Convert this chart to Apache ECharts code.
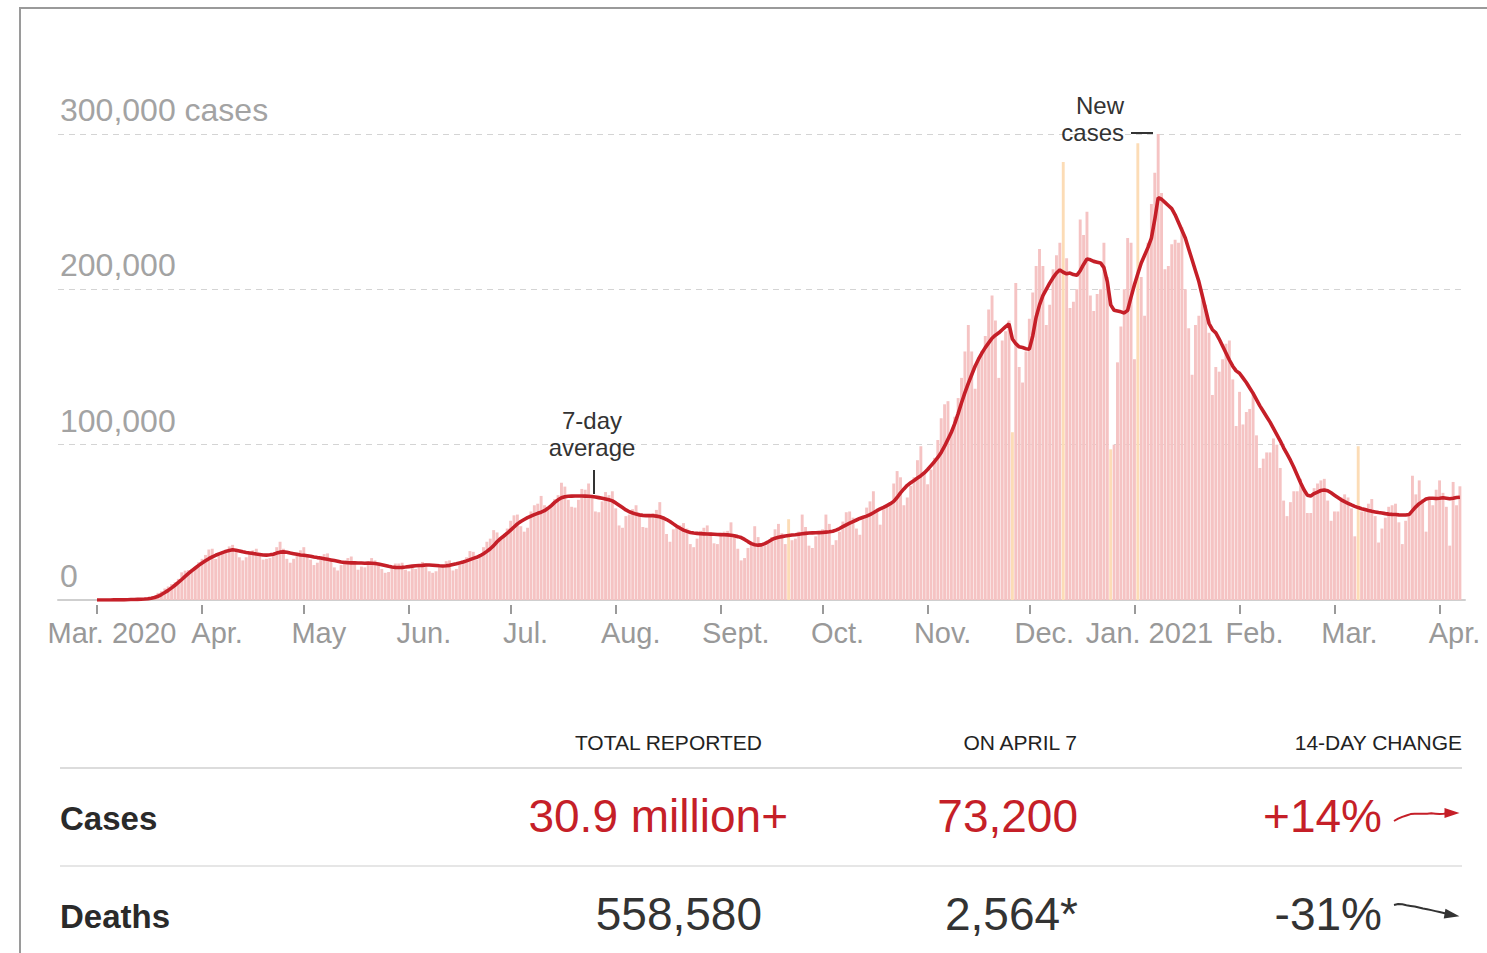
<!DOCTYPE html>
<html>
<head>
<meta charset="utf-8">
<script src="https://cdn.jsdelivr.net/npm/echarts@6/dist/echarts.min.js"></script>
<style>
html,body{margin:0;padding:0;background:#fff;}
#chart{width:1487px;height:953px;}
</style>
</head>
<body>
<div id="chart"></div>
<script>
// ---------------- DATA ----------------
const startDate = '2020-03-01';

// Daily new cases, Mar 1 2020 – Apr 7 2021
const dailyCases = [
  // Mar 2020
  10,20,20,30,60,80,100,120,180,290, 380,430,600,700,830,1300,1800,2800,4600,5600,
  7400,8700,10200,11400,13600,17800,18900,19300,20100,21000, 24300,
  // Apr
  26500,29000,32500,33000,26500,29500,31500,32500,34500,35500, 31000,27500,25500,27500,30500,32000,33000,29500,26000,26500,
  27000,29500,34000,37500,33000,26500,24000,26500,28500,32000,
  // May
  34000,29500,26000,22500,24000,27000,29500,30000,25500,21000, 19000,22500,23000,27000,28000,25000,19500,21500,21000,22500,
  27000,25500,22500,20000,17500,18000,20500,23500,23500,24000, 19500,
  // Jun
  18500,21000,20000,21500,24500,23500,18500,17500,18500,21000, 22500,25000,25500,19000,20000,23500,25500,27500,31500,31000,
  26000,28000,34000,37500,39500,45000,43500,40000,40500,46000,
  // Jul
  51000,54500,55000,47500,44000,46500,57000,61000,62000,67000, 61000,58500,60000,65000,67500,75500,73000,64500,60000,59500,
  64500,71500,71000,75000,66000,57000,56500,63500,69500,67500, 70000,
  // Aug
  59000,48000,46500,54000,55000,58500,61000,55500,47000,46500, 53500,56000,58000,63000,54000,42500,37500,45500,46500,48000,
  49500,46000,36000,34000,39500,44500,46500,48000,43500,36500, 36000,
  // Sep
  41500,44000,44500,50000,41500,33000,25500,27000,33500,37500, 47500,40500,34500,35000,38000,40500,45500,49000,43000,36000,
  52000,38500,39500,44000,55000,47000,35000,33500,41000,43500,
  // Oct
  45500,55000,49000,35500,38500,44000,50500,56500,57000,53000, 46000,42000,52000,59500,63500,70000,57000,48500,58500,60500,
  62500,75000,83000,79000,61000,66000,73500,79000,90000,99000, 81500,
  // Nov
  74500,84000,91500,103000,117000,126000,128000,109000,118000,130000, 143000,160000,177000,160000,136000,156000,160000,170000,187000,196000,
  180000,143000,167000,173000,180000,108000,204000,150000,140000,160000,
  // Dec
  181000,198000,215000,226000,215000,177000,190000,213000,222000,230000, 282000,220000,188000,192000,200000,245000,235000,250000,196000,186000,
  197000,200000,230000,208000,97000,100000,153000,176000,200000,233000, 230000,
  // Jan 2021
  155000,294000,208000,183000,230000,255000,275000,300000,262000,213000, 215000,229000,232000,230000,240000,200000,175000,145000,177000,183000,
  193000,190000,172000,132000,150000,147000,155000,165000,167000,142000, 112000,
  // Feb
  134000,113000,121000,123000,134000,106000,85000,91000,95000,95000, 104000,100000,85000,64000,54000,63000,70000,70000,78000,71000,
  56000,56000,72000,75000,77000,78000,64000,51000,
  // Mar
  57000,57000,66000,68000,66000,59000,41000,99000,57000,58000, 62000,65000,54000,37000,46000,53000,60000,61000,62000,50000,
  36000,51000,54000,80000,68000,77000,65000,44000,66000,61000, 71000,
  // Apr
  77000,69000,60000,35000,76000,61000,73200
];

// 7-day average
const avgCases = [
  // Mar 2020
  0,0,0,0,0,100,100,100,100,200, 300,300,400,500,600,800,1100,1600,2400,3500,
  4800,6200,7800,9500,11300,13200,15200,17100,18900,20600, 22300,
  // Apr
  23800,25200,26600,27800,28800,29700,30500,31300,31900,32300, 32000,31600,31000,30600,30300,30000,29600,29300,29000,28900,
  29100,29500,30200,30800,31000,30700,30200,29800,29400,29000,
  // May
  28800,28500,28200,27700,27300,27000,26600,26200,25800,25400, 25000,24500,24200,24000,23900,23900,23800,23800,23700,23800,
  23700,23500,23200,22700,22200,21700,21300,21000,20900,21000, 21200,
  // Jun
  21500,21800,22000,22200,22300,22500,22500,22400,22200,22000, 21900,22000,22300,22800,23300,23900,24500,25200,26000,26800,
  27500,28500,29800,31300,33000,35000,37500,39500,41200,43000,
  // Jul
  45000,47000,49000,50500,51800,53000,54000,55000,55800,56500, 57500,59000,60800,62800,64500,65800,66500,66800,66900,67000,
  67000,67000,66900,66800,66600,66300,65900,65500,65000,64500, 63800,
  // Aug
  62500,61000,59500,58000,56800,56000,55300,54800,54500,54300, 54300,54200,54000,53600,52800,51800,50500,49000,47500,46200,
  45000,44200,43500,43100,42900,42700,42600,42500,42400,42300, 42200,
  // Sep
  42100,42000,41900,41700,41300,40800,40200,39000,37600,36300, 35600,35300,35500,36300,37500,38800,39800,40400,40800,41200,
  41500,41800,42000,42300,42600,42900,43100,43200,43300,43400,
  // Oct
  43500,43700,43900,44300,45000,46000,47200,48400,49500,50500, 51500,52500,53300,54000,55000,56200,57500,58600,59600,60800,
  62000,63500,66000,69000,71500,73800,75500,77000,78500,80000, 81800,
  // Nov
  84000,86500,89000,91800,95000,99000,103500,108000,113500,120000, 127000,133500,139500,145000,150500,155000,159000,162500,165500,168500,
  170500,172000,174000,176000,177700,168000,165000,163000,162500,161800,
  // Dec
  161500,170000,182000,190000,196000,200000,204000,207500,210500,212500, 211000,210000,210500,209500,209000,212000,216000,219600,219000,218000,
  217500,217000,214000,205000,190000,186500,186000,185500,184800,186500, 195000,
  // Jan 2021
  203000,210000,217000,222000,227000,233000,245000,259000,258000,256000, 254000,252000,248000,243000,238000,233000,226000,219000,212000,205000,
  196000,187000,178000,174000,172000,168000,163500,159000,154500,150500, 147500,
  // Feb
  146000,143000,140000,136500,133000,129000,125000,121500,118000,114500, 110500,106500,102500,98000,94000,90000,85500,80500,75500,71000,
  67500,67000,68500,69500,70500,70800,70300,69000,
  // Mar
  67500,66000,64500,63300,62200,61200,60300,59500,58800,58200, 57600,57100,56700,56300,56000,55600,55300,55100,55000,54800,
  54700,54700,55000,57500,60000,62000,63500,65000,65500,65500, 65300,
  // Apr
  65500,65800,65500,65200,65500,66000,66200
];

// Days drawn in the pale orange colour
const anomalyDates = ['2020-09-21','2020-11-26','2020-12-11','2020-12-25','2021-01-02','2021-03-08'];

// X axis ticks / labels
const monthTickDates = ['2020-03-01','2020-04-01','2020-05-01','2020-06-01','2020-07-01','2020-08-01','2020-09-01',
  '2020-10-01','2020-11-01','2020-12-01','2021-01-01','2021-02-01','2021-03-01','2021-04-01'];
const monthTickLabels = ['Mar. 2020','Apr.','May','Jun.','Jul.','Aug.','Sept.','Oct.','Nov.','Dec.','Jan. 2021','Feb.','Mar.','Apr.'];

// Y axis
const yTicks = [0, 100000, 200000, 300000];
const yUnit = 'cases';

// 14-day trend for deaths (7-day average, rough)
const deathsTrend14 = [1010,1040,1030,1000,980,960,930,900,880,850,820,790,760,730,700];

// Summary table
const tableHeaders = ['TOTAL REPORTED', 'ON APRIL 7', '14-DAY CHANGE'];
const rowLabels = ['Cases', 'Deaths'];
const totalReported = ['30.9 million+', '558,580'];
const onApril7 = ['73,200', '2,564*'];
const change14 = ['+14%', '-31%'];

// ---------------- BUILD ----------------
const DAY = 86400000;
const t0 = Date.parse(startDate + 'T00:00:00Z');
const dayOf = s => Math.round((Date.parse(s + 'T00:00:00Z') - t0) / DAY);
const tickDays = monthTickDates.map(dayOf);
const anomalySet = new Set(anomalyDates.map(dayOf));
const xMin = -11.5;
const xMax = dailyCases.length + 0.5;

const RED = '#c51f28';
const DARK = '#333333';
const FONT = "'Liberation Sans', Arial, Helvetica, sans-serif";

const barData = dailyCases.map((v, i) => anomalySet.has(i)
  ? { value: [i, v], itemStyle: { color: '#fcdcb6' } }
  : { value: [i, v] });
const lineData = avgCases.map((v, i) => [i, v]);

const casesTrend = avgCases.slice(avgCases.length - 15);
function sparkData(arr, rot) {
  return arr.map((v, i) => i === arr.length - 1
    ? { value: v, symbol: 'triangle', symbolSize: [10, 15], symbolRotate: rot }
    : { value: v, symbol: 'none' });
}

function fmtNum(v) { return String(v).replace(/\B(?=(\d{3})+(?!\d))/g, ','); }

const chart = echarts.init(document.getElementById('chart'), null, { renderer: 'svg' });

const graphics = [
  { type: 'rect', shape: { x: 20, y: 8, width: 1520, height: 1000 },
    style: { fill: 'none', stroke: '#9a9a9a', lineWidth: 2 }, z: 10 },
  { type: 'text', x: 592, y: 434, style: { text: '7-day\naverage', font: '24px ' + FONT, lineHeight: 27, fill: DARK, textAlign: 'center', textVerticalAlign: 'middle' }, z: 10 },
  { type: 'line', shape: { x1: 594, y1: 470, x2: 594, y2: 494 }, style: { stroke: DARK, lineWidth: 2 }, z: 10 },
  { type: 'text', x: 1124, y: 119, style: { text: 'New\ncases', font: '24px ' + FONT, lineHeight: 27, fill: DARK, textAlign: 'right', textVerticalAlign: 'middle' }, z: 10 },
  { type: 'line', shape: { x1: 1131, y1: 133, x2: 1153, y2: 133 }, style: { stroke: DARK, lineWidth: 2 }, z: 10 },
  { type: 'line', shape: { x1: 60, y1: 768, x2: 1462, y2: 768 }, style: { stroke: '#dcdcdc', lineWidth: 2 }, z: 10 },
  { type: 'line', shape: { x1: 60, y1: 866, x2: 1462, y2: 866 }, style: { stroke: '#e6e6e6', lineWidth: 2 }, z: 10 }
];
const headerX = [762, 1077, 1462];
tableHeaders.forEach((h, i) => graphics.push({ type: 'text', x: headerX[i], y: 742,
  style: { text: h, font: '21px ' + FONT, fill: '#222', textAlign: 'right', textVerticalAlign: 'middle' }, z: 10 }));
const rowY = [818, 916];
rowLabels.forEach((lab, r) => {
  const col = r === 0 ? RED : DARK;
  graphics.push({ type: 'text', x: 60, y: rowY[r], style: { text: lab, font: 'bold 33px ' + FONT, fill: '#2a2a2a', textAlign: 'left', textVerticalAlign: 'middle' }, z: 10 });
  graphics.push({ type: 'text', x: r === 0 ? 788 : 762, y: rowY[r] - 2, style: { text: totalReported[r], font: '46px ' + FONT, fill: col, textAlign: 'right', textVerticalAlign: 'middle' }, z: 10 });
  graphics.push({ type: 'text', x: 1078, y: rowY[r] - 2, style: { text: onApril7[r], font: '46px ' + FONT, fill: col, textAlign: 'right', textVerticalAlign: 'middle' }, z: 10 });
  graphics.push({ type: 'text', x: 1382, y: rowY[r] - 2, style: { text: change14[r], font: '46px ' + FONT, fill: col, textAlign: 'right', textVerticalAlign: 'middle' }, z: 10 });
});

const option = {
  animation: false,
  backgroundColor: '#ffffff',
  textStyle: { fontFamily: FONT },
  grid: [
    { left: 58, right: 22, top: 134, bottom: 353 },
    { left: 1394, width: 58, top: 813, height: 8 },
    { left: 1394, width: 58, top: 904, height: 11 }
  ],
  xAxis: [
    { type: 'value', gridIndex: 0, min: xMin, max: xMax,
      axisLine: { show: true, lineStyle: { color: '#cfcfcf', width: 2 } },
      axisTick: { show: false }, axisLabel: { show: false }, splitLine: { show: false } },
    { type: 'value', gridIndex: 0, min: xMin, max: xMax, position: 'bottom', offset: 5,
      axisLine: { show: false },
      axisTick: { show: true, customValues: tickDays, length: 9, lineStyle: { color: '#9a9a9a', width: 2 } },
      axisLabel: { show: true, customValues: tickDays, margin: 13, fontSize: 29, color: '#999999',
        fontFamily: FONT, padding: [0, 0, 0, 30],
        formatter: v => { const k = tickDays.indexOf(v); return k >= 0 ? monthTickLabels[k] : ''; } },
      splitLine: { show: false } },
    { type: 'category', gridIndex: 1, show: false, boundaryGap: false, data: casesTrend.map((_, i) => i) },
    { type: 'category', gridIndex: 2, show: false, boundaryGap: false, data: deathsTrend14.map((_, i) => i) }
  ],
  yAxis: [
    { type: 'value', gridIndex: 0, min: yTicks[0], max: yTicks[yTicks.length - 1], interval: yTicks[1] - yTicks[0],
      axisLine: { show: false }, axisTick: { show: false },
      splitLine: { show: true, lineStyle: { color: '#d4d4d4', type: [6, 5], width: 1 } },
      axisLabel: { inside: true, margin: 2, verticalAlign: 'bottom', padding: [0, 0, 8, 0],
        fontSize: 32, color: '#a3a3a3', fontFamily: FONT,
        formatter: v => v === 0 ? '0' : (v === yTicks[yTicks.length - 1] ? fmtNum(v) + ' ' + yUnit : fmtNum(v)) } },
    { type: 'value', gridIndex: 1, show: false, min: 'dataMin', max: 'dataMax' },
    { type: 'value', gridIndex: 2, show: false, min: 'dataMin', max: 'dataMax' }
  ],
  series: [
    { type: 'bar', name: 'New cases', xAxisIndex: 0, yAxisIndex: 0, data: barData,
      barWidth: 2.9, itemStyle: { color: '#f5c3c3' }, z: 1 },
    { type: 'line', name: '7-day average', xAxisIndex: 0, yAxisIndex: 0, data: lineData,
      symbol: 'none', lineStyle: { color: RED, width: 3.6 }, z: 3 },
    { type: 'line', xAxisIndex: 2, yAxisIndex: 1, data: sparkData(casesTrend, -90),
      showSymbol: true, showAllSymbol: true, lineStyle: { color: RED, width: 2 }, itemStyle: { color: RED }, z: 5 },
    { type: 'line', xAxisIndex: 3, yAxisIndex: 2, data: sparkData(deathsTrend14, -100),
      showSymbol: true, showAllSymbol: true, lineStyle: { color: DARK, width: 2 }, itemStyle: { color: DARK }, z: 5 }
  ],
  graphic: graphics
};
chart.setOption(option);
</script>
</body>
</html>
